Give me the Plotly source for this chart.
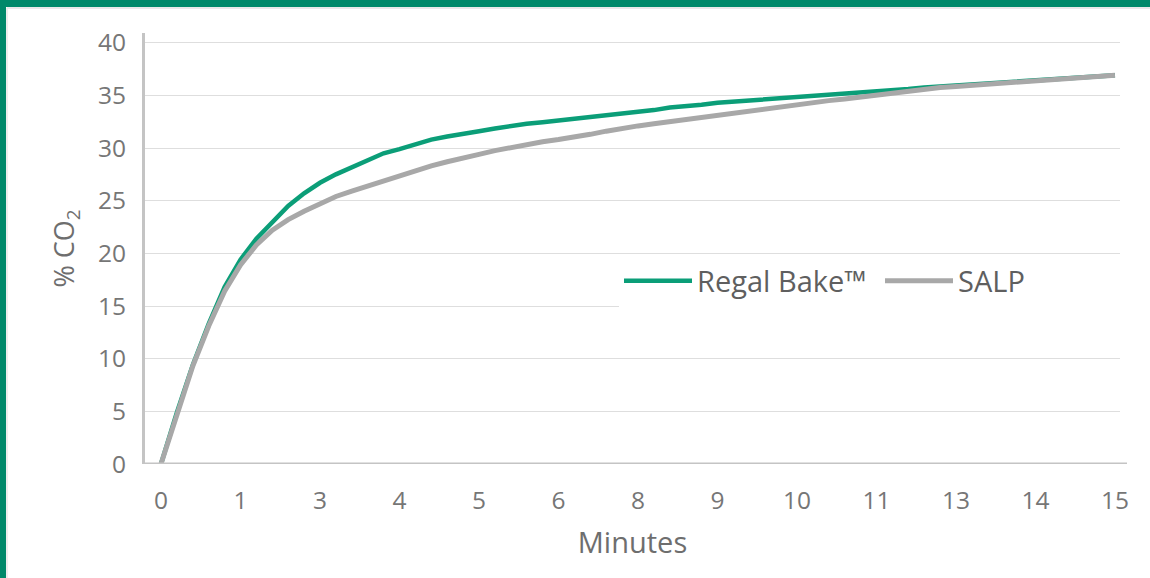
import plotly.graph_objects as go

# ---- data ----
minutes = [i * 0.25 for i in range(61)]
regal_bake = [0, 4.9, 9.4, 13.3, 16.8, 19.4, 21.4, 23.0, 24.5, 25.7,
              26.7, 27.5, 28.2, 28.9, 29.5, 29.9, 30.4, 30.8, 31.1, 31.4,
              31.6, 31.85, 32.1, 32.3, 32.45, 32.6, 32.75, 32.9, 33.05, 33.2,
              33.4, 33.6, 33.85, 33.95, 34.1, 34.3, 34.4, 34.55, 34.65, 34.75,
              34.85, 34.95, 35.05, 35.15, 35.3, 35.4, 35.5, 35.6, 35.75, 35.85,
              35.95, 36.05, 36.2, 36.3, 36.4, 36.5, 36.6, 36.7, 36.8, 36.85, 36.9]
salp = [0, 4.8, 9.3, 13.1, 16.4, 18.9, 20.8, 22.2, 23.2, 24.0,
        24.7, 25.4, 25.9, 26.4, 26.9, 27.3, 27.8, 28.3, 28.7, 29.1,
        29.4, 29.75, 30.05, 30.35, 30.6, 30.8, 31.0, 31.3, 31.6, 31.9,
        32.1, 32.3, 32.5, 32.7, 32.9, 33.1, 33.3, 33.5, 33.75, 33.95,
        34.2, 34.35, 34.5, 34.65, 34.85, 35.05, 35.25, 35.45, 35.6, 35.75,
        35.85, 35.95, 36.05, 36.15, 36.25, 36.35, 36.45, 36.55, 36.7, 36.8, 36.9]
tick_positions = [0, 1.25, 2.5, 3.75, 5, 6.25, 7.5, 8.75, 10, 11.25, 12.5, 13.75, 15]
tick_labels = ["0", "1", "3", "4", "5", "6", "8", "9", "10", "11", "13", "14", "15"]
y_ticks = [0, 5, 10, 15, 20, 25, 30, 35, 40]

# ---- layout geometry (pixels) ----
W, H = 1150, 578
L, R, T, B = 145, 1120, 33, 464
FONT = "Open Sans"
GREEN_LINE = "#0b9e78"
GREY_LINE = "#a8a8a8"
FRAME = "#00896a"


def px(x):
    return (x - L) / (R - L)


def py(y):
    return (B - y) / (B - T)


fig = go.Figure()
fig.add_trace(go.Scatter(x=minutes, y=regal_bake, mode="lines", name="Regal Bake™",
                         line=dict(color=GREEN_LINE, width=4.5)))
fig.add_trace(go.Scatter(x=minutes, y=salp, mode="lines", name="SALP",
                         line=dict(color=GREY_LINE, width=5)))

shapes = [
    # x axis line
    dict(type="line", xref="paper", yref="y", x0=0, x1=px(1127), y0=0, y1=0,
         line=dict(color="#c4c4c4", width=3)),
    # frame
    dict(type="rect", xref="paper", yref="paper", x0=px(0), x1=px(6), y0=py(H), y1=py(0),
         fillcolor=FRAME, line=dict(width=0), layer="above"),
    dict(type="rect", xref="paper", yref="paper", x0=px(0), x1=px(W), y0=py(7), y1=py(0),
         fillcolor=FRAME, line=dict(width=0), layer="above"),
    dict(type="line", xref="paper", yref="paper", x0=px(7), x1=px(W), y0=py(8), y1=py(8),
         line=dict(color="#e2e2e2", width=1.5)),
    dict(type="line", xref="paper", yref="paper", x0=px(7), x1=px(7), y0=py(H), y1=py(8),
         line=dict(color="#e8e8e8", width=1.5)),
]

fig.update_layout(
    width=W, height=H,
    margin=dict(l=L, r=W - R, t=T, b=H - B, autoexpand=False),
    paper_bgcolor="white", plot_bgcolor="white",
    font=dict(family=FONT, color="#767676", size=24),
    shapes=shapes,
    showlegend=True,
    legend=dict(orientation="h", x=px(619), xanchor="left", y=py(281), yanchor="middle",
                bgcolor="white", font=dict(size=29, color="#5f5f5f"),
                itemwidth=68, entrywidth=178, entrywidthmode="pixels"),
    xaxis=dict(range=[-0.2516, 15.079], tickmode="array", tickvals=tick_positions,
               ticktext=tick_labels, showgrid=False, zeroline=False, showline=False,
               ticks="", ticklabelstandoff=19, automargin=False,
               tickfont=dict(size=24.5, color="#767676"),
               title=dict(text="Minutes", font=dict(size=29, color="#6e6e6e"), standoff=18)),
    yaxis=dict(range=[0, 40.92], tickmode="array", tickvals=y_ticks,
               showgrid=True, gridcolor="#dedede", gridwidth=1.2, zeroline=False,
               showline=True, linecolor="#c4c4c4", linewidth=3,
               ticks="", ticklabelstandoff=11, automargin=False,
               tickfont=dict(size=24.5, color="#767676"),
               title=dict(text="% CO<sub>2</sub>", font=dict(size=27, color="#6e6e6e"), standoff=16)),
)

fig.write_html("out.html", config={"displayModeBar": False},
               post_script="document.body.style.margin='0';")
